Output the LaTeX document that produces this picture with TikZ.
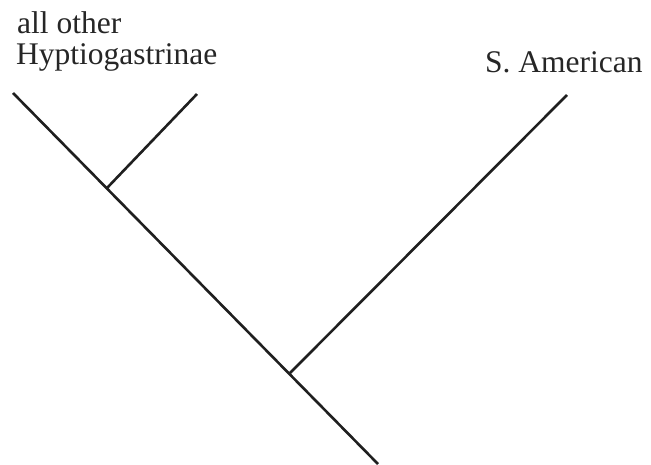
\documentclass[tikz,border=0pt]{standalone}
\usepackage{fontspec}
\setmainfont{Liberation Serif}
\begin{document}
\begin{tikzpicture}[x=1pt,y=-1pt,
  lbl/.style={anchor=base west,inner sep=0pt,font=\fontsize{31.5}{33}\selectfont,text=black!85},
  edge/.style={line width=2.6pt,draw=black!88,line cap=butt}]
\useasboundingbox (0,0) rectangle (651,464);
\coordinate (root) at (13,93);
\coordinate (tip) at (378,464);
\coordinate (j1) at (107,188);
\coordinate (j2) at (290,373);
\coordinate (b1) at (197,94);
\coordinate (b2) at (567,95);
\draw[edge] (root) -- (tip);
\draw[edge] (j1) -- (b1);
\draw[edge] (j2) -- (b2);
\node[lbl] (l1) at (17,33) {all other};
\node[lbl] (l2) at (16,64) {Hyptiogastrinae};
\node[lbl] (l3) at (485,72) {S. American};
\end{tikzpicture}
\end{document}
